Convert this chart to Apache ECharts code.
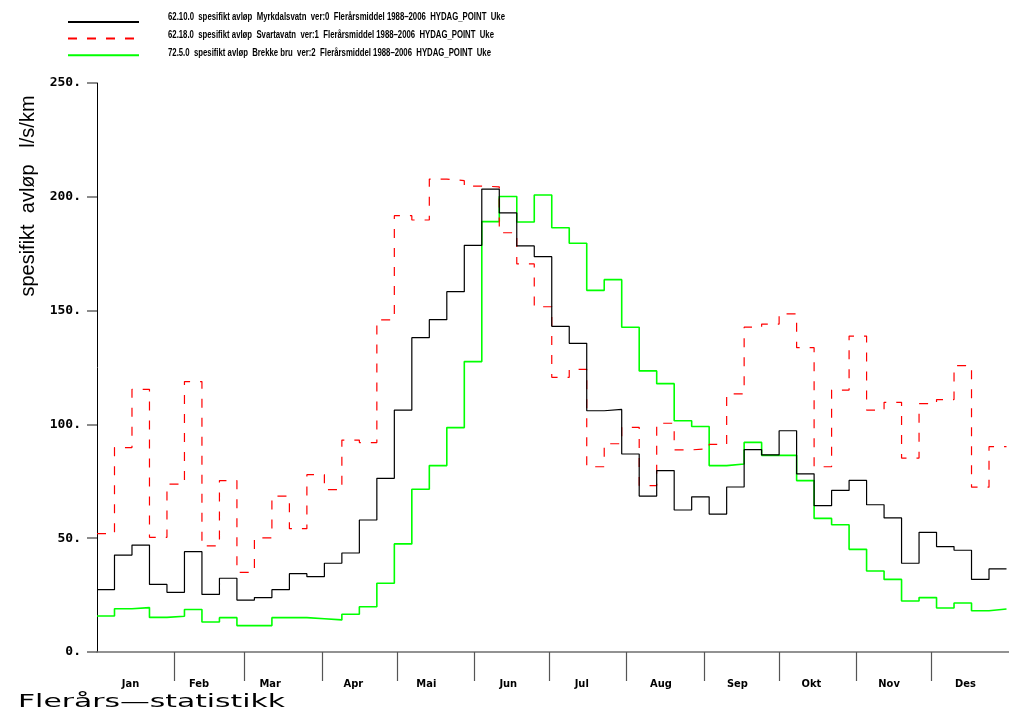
<!DOCTYPE html>
<html>
<head>
<meta charset="utf-8">
<script src="https://cdn.jsdelivr.net/npm/echarts@6/dist/echarts.min.js"></script>
<style>
  html, body { margin: 0; padding: 0; background: #ffffff; }
  #chart { width: 1009px; height: 720px; }
</style>
</head>
<body>
<div id="chart"></div>
<script>
// Month labels and where they sit along the year (days from 1 Jan)
const monthNames = ['Jan', 'Feb', 'Mar', 'Apr', 'Mai', 'Jun', 'Jul', 'Aug', 'Sep', 'Okt', 'Nov', 'Des'];
const monthStartDays = [31, 59, 90, 120, 151, 181, 212, 243, 273, 304, 334];
const monthLabelDays = [13.4, 40.8, 69.3, 102.6, 131.8, 164.6, 194, 225.7, 256.3, 285.9, 317, 347.6];

// Y axis ticks (l/s/km)
const yTicks = [0, 50, 100, 150, 200, 250];

const seriesNames = [
  '62.10.0  spesifikt avløp  Myrkdalsvatn  ver:0  Flerårsmiddel 1988–2006  HYDAG_POINT  Uke',
  '62.18.0  spesifikt avløp  Svartavatn  ver:1  Flerårsmiddel 1988–2006  HYDAG_POINT  Uke',
  '72.5.0  spesifikt avløp  Brekke bru  ver:2  Flerårsmiddel 1988–2006  HYDAG_POINT  Uke'
];

// Weekly mean specific runoff, week 1..52
const myrkdalsvatn = [
  27.4, 42.6, 47.0, 29.7, 26.2, 44.1, 25.3, 32.4, 22.8, 23.9, 27.4, 34.4, 33.1,
  39.0, 43.5, 58.0, 76.3, 106.3, 138.1, 146.0, 158.3, 178.7, 203.4, 192.9, 178.4, 173.7,
  143.1, 135.6, 106.0, 106.6, 87.0, 68.5, 79.7, 62.4, 68.2, 60.6, 72.5, 88.9, 86.6,
  97.2, 78.3, 64.3, 71.0, 75.4, 64.7, 58.9, 39.0, 52.6, 46.3, 44.7, 31.9, 36.5
];
const svartavatn = [
  52.0, 89.8, 115.4, 50.4, 73.8, 118.8, 46.6, 75.3, 35.0, 50.1, 68.5, 54.2, 77.9,
  71.3, 93.1, 92.0, 145.9, 191.7, 189.8, 207.8, 207.1, 204.7, 204.4, 184.2, 170.5, 151.7,
  120.7, 124.2, 81.4, 91.5, 98.7, 73.1, 100.5, 88.8, 89.3, 91.2, 113.4, 142.7, 144.1,
  148.6, 133.7, 81.4, 115.1, 138.8, 106.3, 109.7, 85.2, 109.1, 110.9, 125.8, 72.4, 90.2
];
const brekkeBru = [
  15.8, 19.0, 19.5, 15.2, 15.7, 18.7, 13.2, 15.1, 11.6, 11.6, 15.1, 15.1, 14.6,
  14.1, 16.6, 19.9, 30.2, 47.5, 71.5, 81.9, 98.6, 127.6, 189.1, 200.1, 188.9, 200.8,
  186.4, 179.6, 158.9, 163.6, 142.7, 123.5, 117.9, 101.6, 99.1, 81.9, 82.6, 92.1, 86.4,
  86.4, 75.3, 58.7, 55.9, 45.1, 35.6, 31.9, 22.4, 23.9, 19.3, 21.5, 18.1, 18.9
];

// Each weekly value holds for 7 days; the last step is closed at the end of week 52.
function weeklySteps(values) {
  const pts = values.map((v, i) => [i * 7, v]);
  pts.push([values.length * 7, values[values.length - 1]]);
  return pts;
}

// Horizontal scale that makes a text run exactly `width` pixels wide
const measureCtx = document.createElement('canvas').getContext('2d');
function fitScale(text, font, width) {
  measureCtx.font = font;
  return width / measureCtx.measureText(text).width;
}

const legendFont = 'bold 10px "Liberation Sans", Arial, sans-serif';
const legendWidths = [337, 326, 323];
const legendRowY = [17.5, 35.5, 53.5];

const titleFont = '17px "DejaVu Sans", sans-serif';
const bottomTitle = 'Flerårs—statistikk';

const chart = echarts.init(document.getElementById('chart'));
chart.setOption({
  animation: false,
  backgroundColor: '#ffffff',
  grid: { left: 97, top: 83, width: 923, height: 569, containLabel: false },
  legend: {
    orient: 'vertical',
    left: 62,
    top: 10,
    itemWidth: 71,
    itemHeight: 14,
    itemGap: 4,
    selectedMode: false,
    itemStyle: { opacity: 0 },
    formatter: () => '',
    data: seriesNames
  },
  xAxis: {
    type: 'value',
    min: 0,
    max: 365,
    axisLine: { show: true, onZero: false, lineStyle: { color: '#6f6f6f', width: 1.6 } },
    axisTick: {
      show: true,
      inside: false,
      length: 29,
      customValues: monthStartDays,
      lineStyle: { color: '#555', width: 1.2 }
    },
    axisLabel: {
      show: true,
      customValues: monthLabelDays,
      margin: 27,
      formatter: v => monthNames[monthLabelDays.indexOf(v)] || '',
      fontFamily: '"Liberation Sans Narrow", "DejaVu Sans Condensed", "Liberation Sans", sans-serif',
      fontWeight: 'bold',
      fontSize: 11,
      color: '#000'
    },
    splitLine: { show: false }
  },
  yAxis: {
    type: 'value',
    min: yTicks[0],
    max: yTicks[yTicks.length - 1],
    interval: 50,
    axisLine: { show: true, lineStyle: { color: '#000', width: 1 } },
    axisTick: { show: true, inside: false, length: 10, lineStyle: { color: '#666', width: 1.5 } },
    axisLabel: {
      margin: 16,
      formatter: v => v + '.',
      fontFamily: '"DejaVu Sans Mono", monospace',
      fontWeight: 'bold',
      fontSize: 13,
      color: '#000'
    },
    splitLine: { show: false }
  },
  graphic: [
    {
      type: 'text',
      x: 28,
      y: 196,
      rotation: Math.PI / 2,
      style: {
        text: 'spesifikt  avløp   l/s/km',
        font: '20px "Liberation Sans", Arial, sans-serif',
        fill: '#000',
        align: 'center',
        verticalAlign: 'middle'
      }
    },
    {
      type: 'text',
      x: 18,
      y: 703,
      scaleX: fitScale(bottomTitle, titleFont, 267),
      style: {
        text: bottomTitle,
        font: titleFont,
        fill: '#000',
        align: 'left',
        verticalAlign: 'middle'
      }
    }
  ].concat(seriesNames.map((name, i) => ({
    type: 'text',
    x: 168,
    y: legendRowY[i],
    scaleX: fitScale(name, legendFont, legendWidths[i]),
    style: {
      text: name,
      font: legendFont,
      fill: '#000',
      align: 'left',
      verticalAlign: 'middle'
    }
  }))),
  series: [
    {
      name: seriesNames[0],
      type: 'line',
      step: 'end',
      symbol: 'none',
      data: weeklySteps(myrkdalsvatn),
      lineStyle: { color: '#000000', width: 1.2 },
      itemStyle: { color: '#000000' },
      z: 4
    },
    {
      name: seriesNames[1],
      type: 'line',
      step: 'end',
      symbol: 'none',
      data: weeklySteps(svartavatn),
      lineStyle: { color: '#ff0000', width: 1.2, type: [9, 10] },
      itemStyle: { color: '#ff0000' },
      z: 3
    },
    {
      name: seriesNames[2],
      type: 'line',
      step: 'end',
      symbol: 'none',
      data: weeklySteps(brekkeBru),
      lineStyle: { color: '#00ff00', width: 1.6 },
      itemStyle: { color: '#00ff00' },
      z: 2
    }
  ]
});
</script>
</body>
</html>
